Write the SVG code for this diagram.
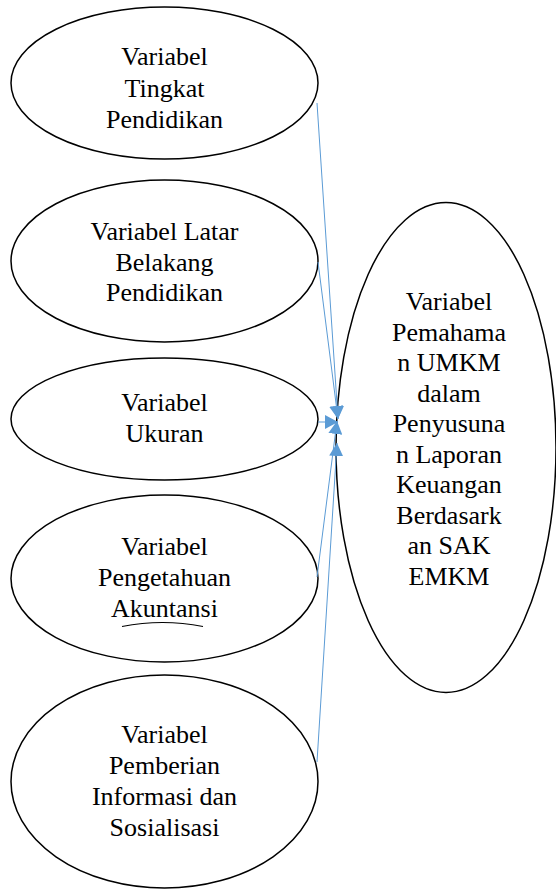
<svg xmlns="http://www.w3.org/2000/svg" width="556" height="890" viewBox="0 0 556 890">
<style>
.node{fill:#fff;stroke:#000;stroke-width:1.5}
.t{font-family:"Liberation Serif","Times New Roman",serif;font-size:26px;fill:#000;text-anchor:middle}
.c{stroke:#5B9BD5;stroke-width:1;fill:none;marker-end:url(#ah)}
</style>
<defs>
<marker id="ah" markerUnits="userSpaceOnUse" viewBox="0 0 13 14" markerWidth="13" markerHeight="14" refX="13" refY="7" orient="auto">
<path d="M0,0 L13,7 L0,14 z" fill="#5B9BD5"/>
</marker>
</defs>
<rect width="556" height="890" fill="#fff"/>
<g id="n1">
<ellipse class="node" cx="164.5" cy="83" rx="153.5" ry="76"/>
<text class="t" x="164.5" y="65">Variabel</text>
<text class="t" x="164.5" y="96.5">Tingkat</text>
<text class="t" x="164.5" y="128">Pendidikan</text>
</g>
<g id="n2">
<ellipse class="node" cx="164.5" cy="261" rx="153.5" ry="81"/>
<text class="t" x="164.5" y="240">Variabel Latar</text>
<text class="t" x="164.5" y="270.5">Belakang</text>
<text class="t" x="164.5" y="301">Pendidikan</text>
</g>
<g id="n3">
<ellipse class="node" cx="164.5" cy="419" rx="153.5" ry="61"/>
<text class="t" x="164.5" y="411">Variabel</text>
<text class="t" x="164.5" y="442">Ukuran</text>
</g>
<g id="n4">
<ellipse class="node" cx="164.5" cy="578.5" rx="153.5" ry="83.5"/>
<text class="t" x="164.5" y="555">Variabel</text>
<text class="t" x="164.5" y="586">Pengetahuan</text>
<text class="t" x="164.5" y="617">Akuntansi</text>
<path d="M122,626.5 Q162.5,618.5 203,626.5" fill="none" stroke="#000" stroke-width="1.2"/>
</g>
<g id="n5">
<ellipse class="node" cx="164.5" cy="781.5" rx="153.5" ry="106.5"/>
<text class="t" x="164.5" y="743">Variabel</text>
<text class="t" x="164.5" y="774">Pemberian</text>
<text class="t" x="164.5" y="805">Informasi dan</text>
<text class="t" x="164.5" y="836">Sosialisasi</text>
</g>
<g id="n6">
<ellipse class="node" cx="446" cy="447.5" rx="110" ry="245"/>
<text class="t" x="449" y="310">Variabel</text>
<text class="t" x="449" y="340.5">Pemahama</text>
<text class="t" x="449" y="371">n UMKM</text>
<text class="t" x="449" y="401.5">dalam</text>
<text class="t" x="449" y="432">Penyusuna</text>
<text class="t" x="449" y="462.5">n Laporan</text>
<text class="t" x="449" y="493">Keuangan</text>
<text class="t" x="449" y="523.5">Berdasark</text>
<text class="t" x="449" y="554">an SAK</text>
<text class="t" x="449" y="585">EMKM</text>
</g>
<g id="connectors">
<line class="c" x1="317" y1="103" x2="338" y2="419"/>
<line class="c" x1="318" y1="262" x2="338" y2="419"/>
<line class="c" x1="318" y1="422" x2="338" y2="422"/>
<line class="c" x1="317" y1="577" x2="337" y2="421"/>
<line class="c" x1="317" y1="762" x2="337" y2="443"/>
</g>
</svg>
